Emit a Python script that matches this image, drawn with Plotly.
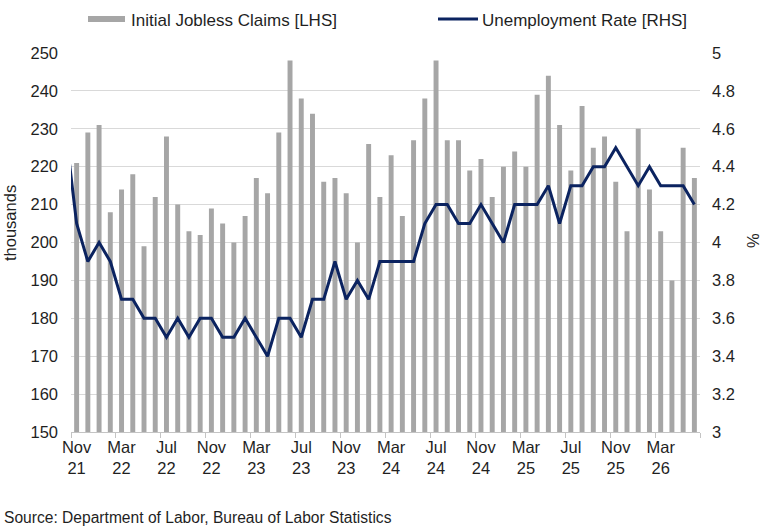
import plotly.graph_objects as go

# ---- data ----
months = ["Nov 21","Dec 21","Jan 22","Feb 22","Mar 22","Apr 22","May 22","Jun 22","Jul 22","Aug 22",
          "Sep 22","Oct 22","Nov 22","Dec 22","Jan 23","Feb 23","Mar 23","Apr 23","May 23","Jun 23",
          "Jul 23","Aug 23","Sep 23","Oct 23","Nov 23","Dec 23","Jan 24","Feb 24","Mar 24","Apr 24",
          "May 24","Jun 24","Jul 24","Aug 24","Sep 24","Oct 24","Nov 24","Dec 24","Jan 25","Feb 25",
          "Mar 25","Apr 25","May 25","Jun 25","Jul 25","Aug 25","Sep 25","Oct 25","Nov 25","Dec 25",
          "Jan 26","Feb 26","Mar 26","Apr 26","May 26","Jun 26"]
claims = [221,229,231,208,214,218,199,212,228,210,
          203,202,209,205,200,207,217,213,229,248,
          238,234,216,217,213,200,226,212,223,207,
          227,238,248,227,227,219,222,212,220,224,
          220,239,244,231,219,236,225,228,216,203,
          230,214,203,190,225,217]
# unemployment rate, preceded by the prior month (Oct 21) which is cut off at the left edge
unemp_prior = 4.6
unemp = [4.1,3.9,4.0,3.9,3.7,3.7,3.6,3.6,3.5,3.6,
         3.5,3.6,3.6,3.5,3.5,3.6,3.5,3.4,3.6,3.6,
         3.5,3.7,3.7,3.9,3.7,3.8,3.7,3.9,3.9,3.9,
         3.9,4.1,4.2,4.2,4.1,4.1,4.2,4.1,4.0,4.2,
         4.2,4.2,4.3,4.1,4.3,4.3,4.4,4.4,4.5,4.4,
         4.3,4.4,4.3,4.3,4.3,4.2]
tick_every = 4
tick_idx = list(range(0, len(months), tick_every))
tick_text = [months[i].replace(" ", "<br>") for i in tick_idx]

# ---- layout geometry (pixels) ----
W, H = 770, 526
L, R, T, B = 71, 70, 53, 94
PW, PH = W - L - R, H - T - B

def px(x):
    return (x - L) / PW

def py(y):
    return (H - B - y) / PH

FONT = "Arial, Liberation Sans, sans-serif"
TXT = "#1f1f1f"
BAR = "#a6a6a6"
NAVY = "#0b2360"

x_idx = list(range(len(months)))

fig = go.Figure()
fig.add_trace(go.Bar(x=x_idx, y=claims, marker_color=BAR, marker_line_width=0,
                     name="Initial Jobless Claims [LHS]", yaxis="y"))
fig.add_trace(go.Scatter(x=[-1] + x_idx, y=[unemp_prior] + unemp, mode="lines",
                         line=dict(color=NAVY, width=3), name="Unemployment Rate [RHS]",
                         yaxis="y2"))

fig.update_layout(
    width=W, height=H, autosize=False,
    margin=dict(l=L, r=R, t=T, b=B, pad=0),
    paper_bgcolor="white", plot_bgcolor="white",
    showlegend=False, bargap=0.56,
    font=dict(family=FONT, size=16, color=TXT),
    xaxis=dict(range=[-0.5, len(months) - 0.5], tickmode="array", tickvals=tick_idx,
               ticktext=tick_text, ticks="", showgrid=False, zeroline=False,
               showline=True, linecolor="#c4c4c4", linewidth=1,
               tickfont=dict(size=16.5, color=TXT),
               minor=dict(ticks="outside", tick0=-0.5, dtick=tick_every, ticklen=5,
                          tickcolor="#c4c4c4", tickwidth=1, showgrid=False)),
    yaxis=dict(range=[150, 250], dtick=10, showgrid=True, gridcolor="#d9d9d9", gridwidth=1,
               zeroline=False, showline=False, ticks="", tickfont=dict(size=16.5, color=TXT),
               ticklabelstandoff=12),
    yaxis2=dict(range=[3, 5], dtick=0.2, overlaying="y", side="right", showgrid=False,
                zeroline=False, showline=False, ticks="", tickfont=dict(size=16.5, color=TXT),
                ticklabelstandoff=11),
)

shapes = [
    dict(type="rect", xref="paper", yref="paper", x0=px(88), x1=px(125), y0=py(22), y1=py(16),
         fillcolor=BAR, line=dict(width=0)),
    dict(type="line", xref="paper", yref="paper", x0=px(438), x1=px(478), y0=py(19), y1=py(19),
         line=dict(color=NAVY, width=3)),
]
annotations = [
    dict(text="Initial Jobless Claims [LHS]", x=px(129), y=py(20), xref="paper", yref="paper",
         xanchor="left", yanchor="middle", showarrow=False, font=dict(size=17, color=TXT)),
    dict(text="Unemployment Rate [RHS]", x=px(480), y=py(20), xref="paper", yref="paper",
         xanchor="left", yanchor="middle", showarrow=False, font=dict(size=17, color=TXT)),
    dict(text="thousands", x=px(10), y=py(223), xref="paper", yref="paper", textangle=-90,
         xanchor="center", yanchor="middle", showarrow=False, font=dict(size=16.5, color=TXT)),
    dict(text="%", x=px(753), y=py(241), xref="paper", yref="paper", textangle=-90,
         xanchor="center", yanchor="middle", showarrow=False, font=dict(size=16.5, color=TXT)),
    dict(text="Source: Department of Labor, Bureau of Labor Statistics", x=px(2), y=py(517),
         xref="paper", yref="paper", xanchor="left", yanchor="middle", showarrow=False,
         font=dict(size=15.6, color=TXT)),
]
fig.update_layout(shapes=shapes, annotations=annotations)

fig.write_html("out.html")
